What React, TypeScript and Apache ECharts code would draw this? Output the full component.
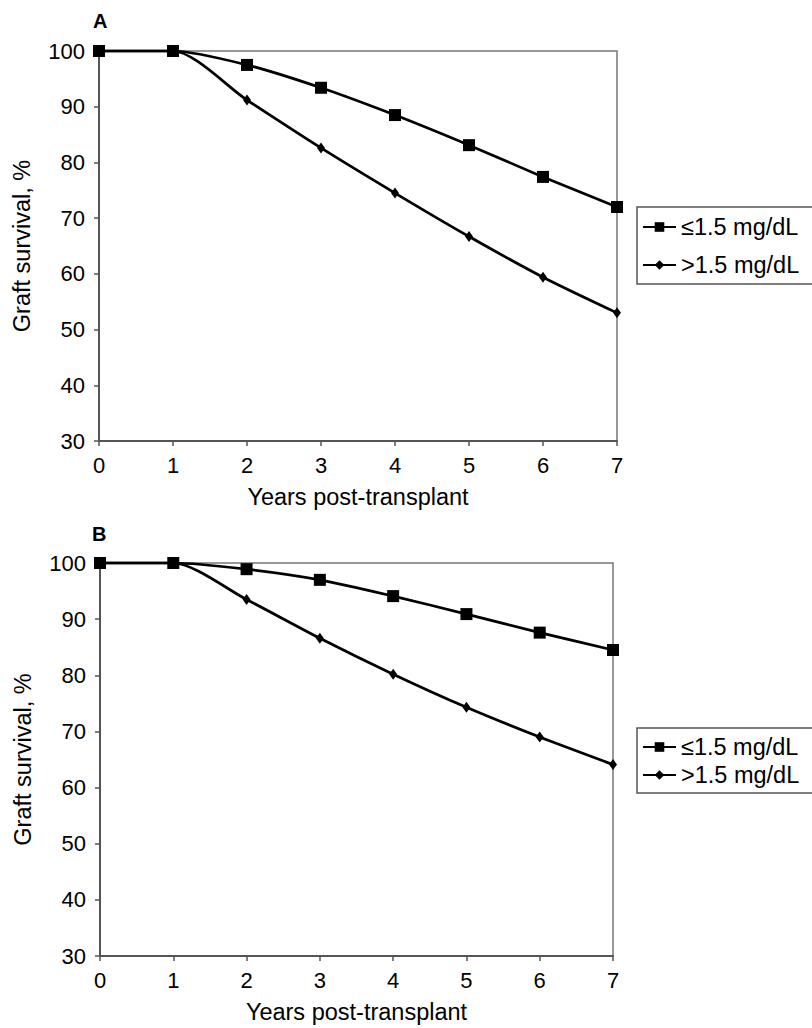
import React, { useEffect, useRef } from "react";
import * as echarts from "echarts";

const years = [0, 1, 2, 3, 4, 5, 6, 7];
const seriesNames = ["≤1.5 mg/dL", ">1.5 mg/dL"];
const panelLabels = ["A", "B"];
const aLow = [100, 100, 97.5, 93.4, 88.5, 83.1, 77.4, 72.0];
const aHigh = [100, 100, 91.2, 82.6, 74.5, 66.7, 59.4, 53.0];
const bLow = [100, 100, 98.9, 97.0, 94.1, 90.9, 87.6, 84.5];
const bHigh = [100, 100, 93.5, 86.6, 80.2, 74.3, 69.0, 64.1];
const xTitle = "Years post-transplant";
const yTitle = "Graft survival, %";

export default function App() {
  const ref = useRef<HTMLDivElement>(null);
  useEffect(() => {
    if (!ref.current) return;
    const chart = echarts.init(ref.current, null, { renderer: "svg" });
    const font = "'Liberation Sans', Arial, sans-serif";
    const grids = [
      { left: 99, right: 195, top: 51, height: 390 },
      { left: 100, right: 199, top: 563, height: 393 },
    ];
    const mkX = (i: number) => ({
      type: "value",
      gridIndex: i,
      min: 0,
      max: 7,
      interval: 1,
      name: xTitle,
      nameLocation: "middle",
      nameGap: 44,
      nameTextStyle: { fontSize: 23.5, color: "#000", fontFamily: font },
      axisLine: { show: true, lineStyle: { color: "#555", width: 2 } },
      axisTick: { show: true, length: 5, lineStyle: { color: "#555", width: 1.5 } },
      axisLabel: { fontSize: 22, color: "#000", fontFamily: font, margin: 13 },
      splitLine: { show: false },
    });
    const mkY = (i: number) => ({
      type: "value",
      gridIndex: i,
      min: 30,
      max: 100,
      interval: 10,
      name: yTitle,
      nameLocation: "middle",
      nameRotate: 90,
      nameGap: 65,
      nameTextStyle: { fontSize: 23.5, color: "#000", fontFamily: font },
      axisLine: { show: true, lineStyle: { color: "#555", width: 2 } },
      axisTick: { show: true, length: 5, lineStyle: { color: "#555", width: 1.5 } },
      axisLabel: { fontSize: 22, color: "#000", fontFamily: font, margin: 14 },
      splitLine: { show: false },
    });
    const mkSeries = (name: string, vals: number[], i: number, square: boolean) => ({
      type: "line",
      name,
      xAxisIndex: i,
      yAxisIndex: i,
      data: years.map((x, k) => [x, vals[k]]),
      smooth: 0.25,
      clip: false,
      symbol: square ? "rect" : "diamond",
      symbolSize: square ? 12 : [8, 11],
      lineStyle: { color: "#000", width: 2.7 },
      itemStyle: { color: "#000" },
    });
    const mkLegend = (top: number, gap: number, padding: number[]) => ({
      orient: "vertical",
      left: 637,
      top,
      data: seriesNames,
      itemWidth: 33,
      itemHeight: 12,
      itemGap: gap,
      padding,
      borderColor: "#555",
      borderWidth: 1.5,
      textStyle: { fontSize: 23.5, color: "#000", fontFamily: font },
      selectedMode: false,
    });
    chart.setOption({
      animation: false,
      backgroundColor: "#fff",
      grid: grids.map((g) => ({
        ...g,
        show: true,
        borderColor: "#777",
        borderWidth: 1.5,
        backgroundColor: "transparent",
      })),
      xAxis: [mkX(0), mkX(1)],
      yAxis: [mkY(0), mkY(1)],
      legend: [mkLegend(207, 14, [8, 30, 7, 5]), mkLegend(728, 4, [7, 30, 6, 5])],
      series: [
        mkSeries(seriesNames[0], aLow, 0, true),
        mkSeries(seriesNames[1], aHigh, 0, false),
        mkSeries(seriesNames[0], bLow, 1, true),
        mkSeries(seriesNames[1], bHigh, 1, false),
      ],
      graphic: [
        {
          type: "text",
          left: 93,
          top: 11,
          style: { text: panelLabels[0], fontSize: 20, fontWeight: "bold", fill: "#000", fontFamily: font },
        },
        {
          type: "text",
          left: 92,
          top: 524,
          style: { text: panelLabels[1], fontSize: 20, fontWeight: "bold", fill: "#000", fontFamily: font },
        },
      ],
    });
    return () => chart.dispose();
  }, []);
  return (
    <div
      ref={ref}
      style={{ position: "absolute", left: 0, top: 0, width: 812, height: 1028 }}
    />
  );
}
